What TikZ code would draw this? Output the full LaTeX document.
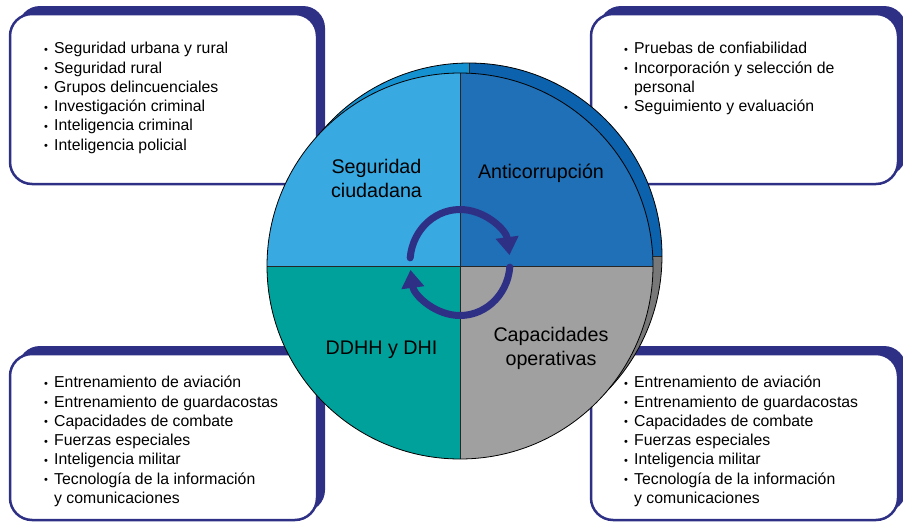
\documentclass[tikz,border=0pt]{standalone}
\usepackage{fontspec}
\setmainfont{Liberation Sans}
\usetikzlibrary{arrows.meta,shadows}
\definecolor{navy}{HTML}{2E3085}
\definecolor{fTL}{HTML}{38A9E1}
\definecolor{fTR}{HTML}{1F70B7}
\definecolor{fBL}{HTML}{00A19B}
\definecolor{fBR}{HTML}{A0A0A0}
\definecolor{bTL}{HTML}{1491D1}
\definecolor{bTR}{HTML}{0C62AC}
\definecolor{bBL}{HTML}{00847F}
\definecolor{bBR}{HTML}{787878}
\newcommand{\bul}{\makebox[10pt][l]{\raisebox{0.6pt}{\fontsize{11}{11}\selectfont •}}}
\newcommand{\ind}{\hspace*{10pt}}
\tikzset{
  panel/.style={draw=navy, line width=2.5pt, fill=white, rounded corners=22pt,
    minimum width=307pt, minimum height=170pt, inner sep=0pt,
    general shadow={fill=navy, shadow xshift=8pt, shadow yshift=8pt}},
  bpanel/.style={panel, minimum height=166pt},
  list/.style={anchor=north west, inner sep=0pt, align=left,
    font=\fontsize{15.8}{19.3}\selectfont},
  label/.style={inner sep=0pt, align=center, font=\fontsize{19.7}{24}\selectfont},
  cyc/.style={draw=navy, line width=7pt, line cap=round,
    -{Triangle[width=22pt,length=18pt]}},
  rim/.style={draw=black, line width=0.8pt},
  divider/.style={draw=black!85, line width=1pt}
}
\begin{document}
\begin{tikzpicture}[x=1pt,y=-1pt]
\useasboundingbox (0,0) rectangle (903,522);
% panels
\node[panel] (ptl) at (163.5,99) {};
\node[panel] (ptr) at (744.5,99) {};
\node[bpanel] (pbl) at (163.5,437) {};
\node[bpanel] (pbr) at (744.5,437) {};
% lists
\node[list] (ttl) at (44,41.5) {\rule{0pt}{12pt}\bul Seguridad urbana y rural\\
\bul Seguridad rural\\ \bul Grupos delincuenciales\\ \bul Investigación criminal\\
\bul Inteligencia criminal\\ \bul Inteligencia policial};
\node[list] (ttr) at (624,41.5) {\rule{0pt}{12pt}\bul Pruebas de confiabilidad\\
\bul Incorporación y selección de\\ \ind personal\\ \bul Seguimiento y evaluación};
\node[list] (tbl) at (44,375.5) {\rule{0pt}{12pt}\bul Entrenamiento de aviación\\
\bul Entrenamiento de guardacostas\\ \bul Capacidades de combate\\ \bul Fuerzas especiales\\
\bul Inteligencia militar\\ \bul Tecnología de la información\\ \ind y comunicaciones};
\node[list] (tbr) at (624,375.5) {\rule{0pt}{12pt}\bul Entrenamiento de aviación\\
\bul Entrenamiento de guardacostas\\ \bul Capacidades de combate\\ \bul Fuerzas especiales\\
\bul Inteligencia militar\\ \bul Tecnología de la información\\ \ind y comunicaciones};
% back circle
\coordinate (cb) at (469,256);
\coordinate (cf) at (460,266);
\fill[bTL] (cb) -- ++(180:193) arc[start angle=180,end angle=270,radius=193] -- cycle;
\fill[bTR] (cb) -- ++(270:193) arc[start angle=270,end angle=360,radius=193] -- cycle;
\fill[bBR] (cb) -- ++(0:193) arc[start angle=0,end angle=90,radius=193] -- cycle;
\fill[bBL] (cb) -- ++(90:193) arc[start angle=90,end angle=180,radius=193] -- cycle;
\draw[divider] (cb) ++(0,-193) -- ++(0,386);
\draw[divider] (cb) ++(-193,0) -- ++(386,0);
\draw[rim] (cb) circle[radius=193];
% front circle
\fill[fTL] (cf) -- ++(180:193) arc[start angle=180,end angle=270,radius=193] -- cycle;
\fill[fTR] (cf) -- ++(270:193) arc[start angle=270,end angle=360,radius=193] -- cycle;
\fill[fBR] (cf) -- ++(0:193) arc[start angle=0,end angle=90,radius=193] -- cycle;
\fill[fBL] (cf) -- ++(90:193) arc[start angle=90,end angle=180,radius=193] -- cycle;
\draw[divider] (cf) ++(0,-193) -- ++(0,386);
\draw[divider] (cf) ++(-193,0) -- ++(386,0);
\draw[rim] (cf) circle[radius=193];
% labels
\node[label] (lsc) at (376.5,178) {Seguridad\\ciudadana};
\node[label] (lan) at (541,173) {Anticorrupción};
\node[label] (ldd) at (381.5,350) {DDHH y DHI};
\node[label] (lco) at (551,348) {Capacidades\\operativas};
% cycle arrows
\coordinate (ca) at (460,262.5);
\draw[cyc] ([shift={(185:50 and 53)}]ca) arc[start angle=185,end angle=352,x radius=50,y radius=53];
\draw[cyc] ([shift={(5:50 and 53)}]ca) arc[start angle=5,end angle=172,x radius=50,y radius=53];
\end{tikzpicture}
\end{document}
